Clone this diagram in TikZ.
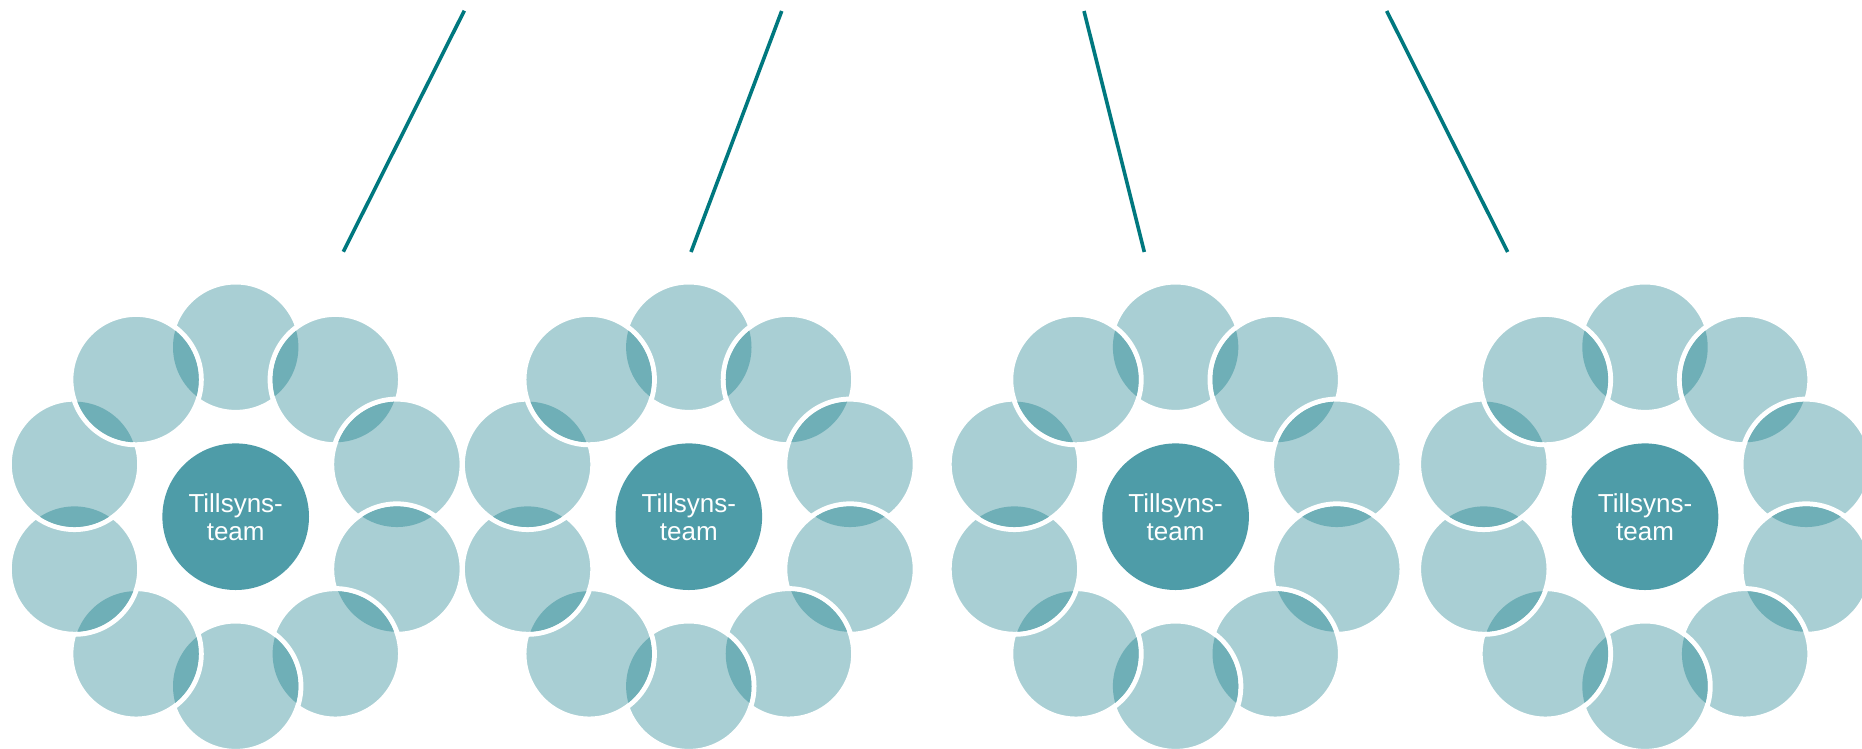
\documentclass[tikz,border=0pt]{standalone}
\usepackage{fontspec}
\setmainfont{Liberation Sans}
\usetikzlibrary{calc}
\definecolor{ringfill}{HTML}{A9CFD4}
\definecolor{lensfill}{HTML}{6FAFB7}
\definecolor{hubfill}{HTML}{4E9CA8}
\definecolor{linecol}{HTML}{00787F}
\tikzset{
  ringc/.style={fill=ringfill, draw=white, line width=5pt},
  lensc/.style={fill=lensfill},
  hubc/.style={circle, fill=hubfill, minimum size=146.6pt, inner sep=0pt,
    text=white, align=center, font=\fontsize{26}{28}\selectfont},
  conn/.style={draw=linecol, line width=3.6pt}
}
\newcommand\lensdraw[2]{%
  \begin{scope}
    \clip (#1) circle (62.7pt);
    \fill[lensc] (#2) circle (62.7pt);
  \end{scope}}
\newcommand\teamcluster[2]{%
  \node[hubc] (#1) at (#2,516.7) {Tillsyns-\\team};
  \foreach \k in {1,...,10} {
    \pgfmathsetmacro\ang{90-(\k-1)*36}
    \coordinate (#1-\k) at ($(#1.center)+(\ang:169.5pt)$);
  }
  \foreach \k in {1,...,10} {
    \filldraw[ringc] (#1-\k) circle (65.2pt);
    \ifnum\k>1
      \pgfmathtruncatemacro\j{\k-1}
      \lensdraw{#1-\k}{#1-\j}
    \fi
    \ifnum\k=10
      \lensdraw{#1-10}{#1-1}
    \fi
  }
}
\begin{document}
\begin{tikzpicture}[x=1pt,y=-1pt]
  \clip (0,0) rectangle (1862,748);
  \fill[white] (0,0) rectangle (1862,748);
  \teamcluster{ta}{235.7}
  \teamcluster{tb}{688.8}
  \teamcluster{tc}{1175.6}
  \teamcluster{td}{1645.0}
  \coordinate (l1a) at (464.3,10.7);
  \coordinate (l1b) at (343.3,251.7);
  \coordinate (l2a) at (781.7,11);
  \coordinate (l2b) at (691,252);
  \coordinate (l3a) at (1084,11);
  \coordinate (l3b) at (1144.3,252);
  \coordinate (l4a) at (1386.7,11);
  \coordinate (l4b) at (1507.7,252);
  \draw[conn] (l1a) -- (l1b);
  \draw[conn] (l2a) -- (l2b);
  \draw[conn] (l3a) -- (l3b);
  \draw[conn] (l4a) -- (l4b);
\end{tikzpicture}
\end{document}
